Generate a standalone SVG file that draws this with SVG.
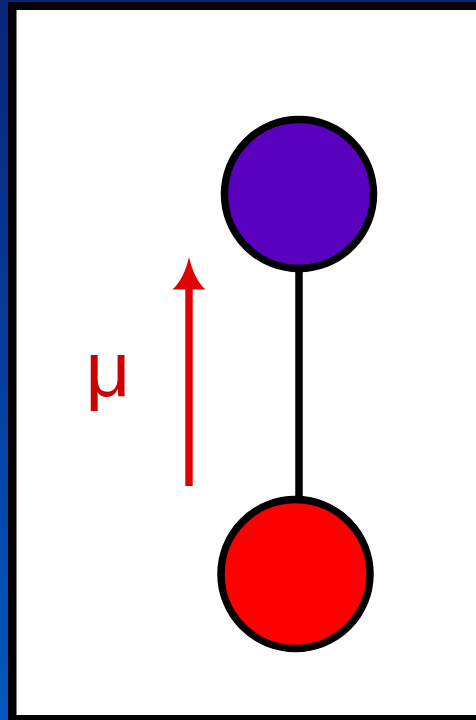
<svg xmlns="http://www.w3.org/2000/svg" width="476" height="720" viewBox="0 0 476 720">
<defs>
<linearGradient id="bg" x1="0" y1="0" x2="0" y2="1">
<stop offset="0" stop-color="#0a2478"/>
<stop offset="1" stop-color="#0058c0"/>
</linearGradient>
<style>
.node{stroke:#000;stroke-width:7.5}
.conn{stroke:#000;stroke-width:7.5;fill:none}
</style>
</defs>
<rect x="0" y="0" width="476" height="720" fill="url(#bg)"/>
<rect x="8" y="2" width="468" height="718" fill="#000"/>
<rect x="16.5" y="10" width="459.5" height="705" fill="#fff"/>
<g id="connectors">
<line class="conn" x1="299" y1="266" x2="299" y2="499"/>
</g>
<g id="top-atom">
<circle class="node" cx="299" cy="194" r="74.5" fill="#5a00bf"/>
</g>
<g id="bottom-atom">
<circle class="node" cx="295.5" cy="574" r="74.5" fill="#ff0000"/>
</g>
<g id="dipole">
<rect x="185.3" y="285" width="7.4" height="201" fill="#e00000"/>
<path d="M189 257 C192 270 197 282 205.5 289.5 L172.5 289.5 C181 282 186 270 189 257 Z" fill="#e00000"/>
<text x="108" y="396" font-family="Liberation Sans, Arial, sans-serif" font-size="78" fill="#cc0000" text-anchor="middle">μ</text>
</g>
</svg>
